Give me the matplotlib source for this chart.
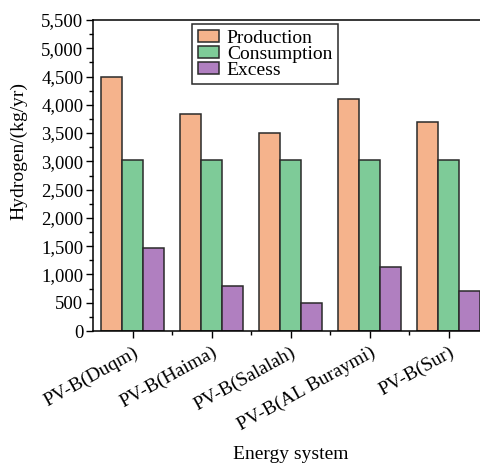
"""
Hydrogen production / consumption / excess per PV-B energy system
"""
import numpy as np
import matplotlib.pyplot as plt
from matplotlib.ticker import MultipleLocator, FuncFormatter

# energy systems on the x axis
SYSTEMS = ["PV-B(Duqm)", "PV-B(Haima)", "PV-B(Salalah)",
           "PV-B(AL Buraymi)", "PV-B(Sur)"]

# hydrogen values in kg/yr
PRODUCTION = [4500, 3840, 3500, 4110, 3700]
CONSUMPTION = [3030, 3030, 3030, 3030, 3030]
EXCESS = [1470, 790, 500, 1140, 700]

SERIES = ["Production", "Consumption", "Excess"]
COLORS = ["#f5b38c", "#7ecb98", "#b07fc0"]

plt.rcParams["font.family"] = ["Liberation Serif", "DejaVu Serif"]
plt.rcParams["font.size"] = 13.5

fig = plt.figure(figsize=(4.8, 4.63), dpi=100)
ax = fig.add_axes([93 / 480, 1 - 331 / 463, 395 / 480, 311 / 463])

x = np.arange(len(SYSTEMS))
width = 0.27
for i, (vals, name, col) in enumerate(zip([PRODUCTION, CONSUMPTION, EXCESS],
                                          SERIES, COLORS)):
    ax.bar(x + (i - 1) * width, vals, width, color=col, edgecolor="#2a2a2a",
           linewidth=1.1, label=name)

ax.set_xlim(-0.5, 4.5)
ax.set_ylim(0, 5500)
ax.yaxis.set_major_locator(MultipleLocator(500))
ax.yaxis.set_minor_locator(MultipleLocator(250))
ax.yaxis.set_major_formatter(FuncFormatter(lambda v, _: "{:,.0f}".format(v)))
ax.set_xticks(x)
ax.set_xticks(x[:-1] + 0.5, minor=True)
ax.set_xticklabels(SYSTEMS, rotation=29, ha="right", rotation_mode="anchor",
                   fontsize=14)

ax.tick_params(which="major", direction="out", length=5, width=1)
ax.tick_params(which="minor", direction="out", length=3, width=1)
ax.tick_params(axis="y", pad=2)
ax.tick_params(axis="x", pad=4)
for side in ["left", "bottom", "top"]:
    ax.spines[side].set_linewidth(1.1)
ax.spines["right"].set_visible(False)

ax.set_ylabel("Hydrogen/(kg/yr)", fontsize=14)
ax.yaxis.set_label_coords(-0.165, 0.579)
ax.set_xlabel("Energy system", fontsize=14, labelpad=9)

leg = ax.legend(loc="upper left", bbox_to_anchor=(0.25, 0.987),
                borderaxespad=0, fancybox=False, edgecolor="#2a2a2a",
                framealpha=1, labelspacing=-0.06, handlelength=1.1,
                handleheight=0.55, handletextpad=0.4, borderpad=0.3,
                fontsize=14)
leg.get_frame().set_linewidth(1.1)

plt.savefig("out.png", dpi=100)
plt.close()
